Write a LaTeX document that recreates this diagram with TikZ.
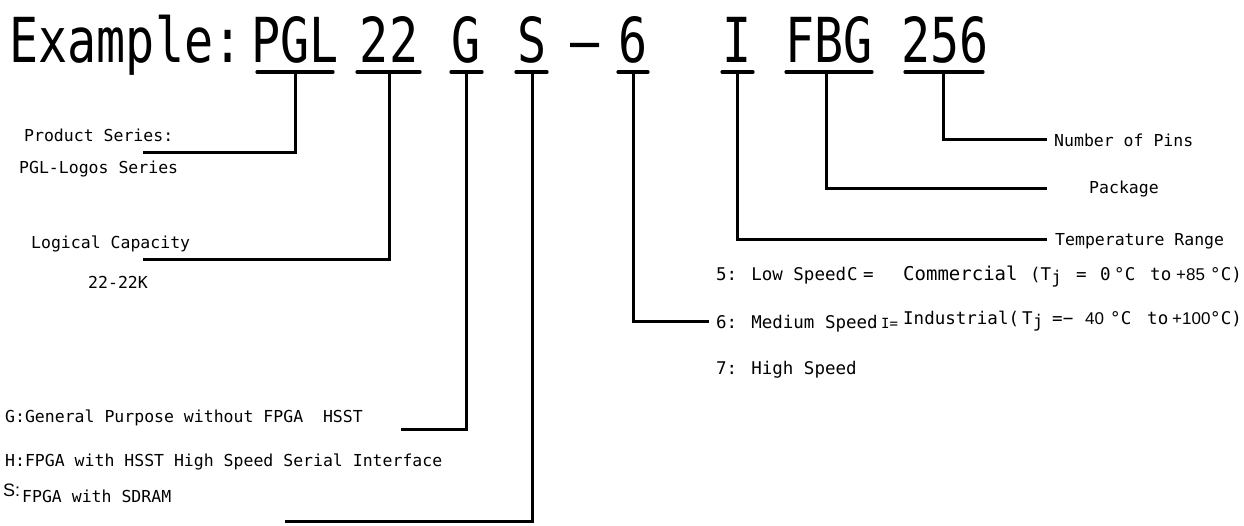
\documentclass[tikz,border=0pt]{standalone}
\usepackage{fontspec}
\newfontfamily\titlef[FakeStretch=0.78]{DejaVu Sans Mono}
\newfontfamily\labf{DejaVu Sans Mono}
\newfontfamily\propf{Liberation Sans}
\tikzset{
  ttl/.style={font=\titlef\fontsize{62}{62}\selectfont, inner sep=0pt, anchor=base},
  lab/.style={font=\labf\fontsize{16.5}{16.5}\selectfont, inner sep=0pt, anchor=west},
  labb/.style={font=\labf\fontsize{17.5}{17.5}\selectfont, inner sep=0pt, anchor=base west},
  labp/.style={font=\propf\fontsize{17}{17}\selectfont, inner sep=0pt, anchor=base west},
  bar/.style={line width=3.2pt, line cap=round},
  conn/.style={line width=3pt, line join=miter},
}
\begin{document}
\begin{tikzpicture}[x=1pt,y=-1pt]
\useasboundingbox (0,0) rectangle (1244,526);
% title
\node[ttl] (tEx)  at (126,63) {Example:};
\node[ttl] (tPGL) at (295,63) {PGL};
\node[ttl] (t22)  at (389,63) {22};
\node[ttl] (tG)   at (466,63) {G};
\node[ttl] (tS)   at (532,63) {S};
\node[ttl] (tDa)  at (585,63) {–};
\node[ttl] (t6)   at (633,63) {6};
\node[ttl] (tI)   at (737,63) {I};
\node[ttl] (tFBG) at (829,63) {FBG};
\node[ttl] (t256) at (945,63) {256};
% bars
\foreach \n/\a/\b/\m in {pgl/257/333/295, tt/357/420/389, g/451/482/466, s/516/547/532, six/618/648/633, i/722/753/737, fbg/786/872/826, pins/905/983/943}{
  \coordinate (\n L) at (\a,72);
  \coordinate (\n R) at (\b,72);
  \coordinate (\n T) at (\m,72);
  \draw[bar] (\n L) -- (\n R);
}
% left labels
\node[lab] (lPS)  at (24,135) {Product Series:};
\node[lab] (lPGL) at (19,169) {PGL-Logos Series};
\node[lab] (lLC)  at (31,244) {Logical Capacity};
\node[lab] (l22)  at (88,282) {22-22K};
\node[lab] (lG)   at (5,418) {G:General Purpose without FPGA\ \ HSST};
\node[lab] (lH)   at (5,462) {H:FPGA with HSST High Speed Serial Interface};
\node[font=\propf\fontsize{18}{18}\selectfont, inner sep=0pt, anchor=west] (lS1) at (3,490) {S:};
\node[lab] (lS2)  at (22,496) {FPGA with SDRAM};
% right labels
\node[lab] (rPins) at (1054,140) {Number of Pins};
\node[lab] (rPack) at (1089,189) {Package};
\node[lab] (rTemp) at (1055,241) {Temperature Range};
% speed / temperature lines
\node[labb] (s5a) at (716,281) {5: Low Speed};
\node[labb] (s5b) at (847,281) {C};
\node[labb] (s5c) at (863,281) {=};
\node[font=\labf\fontsize{19}{19}\selectfont, inner sep=0pt, anchor=base west] (s5d) at (903,281) {Commercial};
\node[labb] (s5e) at (1030,281) {(T\raisebox{-3pt}{j}};
\node[labb] (s5f) at (1076,281) {=};
\node[labb] (s5g) at (1100,281) {0};
\node[labb] (s5h) at (1114,281) {°C};
\node[labb] (s5i) at (1150,281) {to};
\node[labp] (s5j) at (1176,281) {+85};
\node[labb] (s5k) at (1210,281) {°C)};
\node[labb] (s6a) at (716,328) {6: Medium Speed};
\node[font=\labf\fontsize{14}{14}\selectfont, inner sep=0pt, anchor=base west] (s6b) at (881,329) {I=};
\node[labb] (s6c) at (903,324) {Industrial(};
\node[labb] (s6d) at (1022,324) {T\raisebox{-3pt}{j}};
\node[labb] (s6e) at (1052,324) {=−};
\node[labp] (s6f) at (1085,324) {40};
\node[labb] (s6g) at (1110,324) {°C};
\node[labb] (s6h) at (1147,324) {to};
\node[labp] (s6i) at (1172,324) {+100};
\node[labb] (s6j) at (1210,324) {°C)};
\node[labb] (s7)  at (716,374) {7: High Speed};
% connectors
\coordinate (pglC) at (295,153); \coordinate (pglE) at (143,153);
\draw[conn] (pglT) -- (pglC) -- (pglE);
\coordinate (ttC) at (389,260); \coordinate (ttE) at (143,260);
\draw[conn] (ttT) -- (ttC) -- (ttE);
\coordinate (gC) at (466,429); \coordinate (gE) at (401,429);
\draw[conn] (gT) -- (gC) -- (gE);
\coordinate (sC) at (532,521); \coordinate (sE) at (285,521);
\draw[conn] (sT) -- (sC) -- (sE);
\coordinate (sixC) at (633,322); \coordinate (sixE) at (709,322);
\draw[conn] (sixT) -- (sixC) -- (sixE);
\coordinate (iC) at (737,240); \coordinate (iE) at (1047,240);
\draw[conn] (iT) -- (iC) -- (iE);
\coordinate (fbgC) at (826,189); \coordinate (fbgE) at (1047,189);
\draw[conn] (fbgT) -- (fbgC) -- (fbgE);
\coordinate (pinsC) at (943,140); \coordinate (pinsE) at (1047,140);
\draw[conn] (pinsT) -- (pinsC) -- (pinsE);
\end{tikzpicture}
\end{document}
